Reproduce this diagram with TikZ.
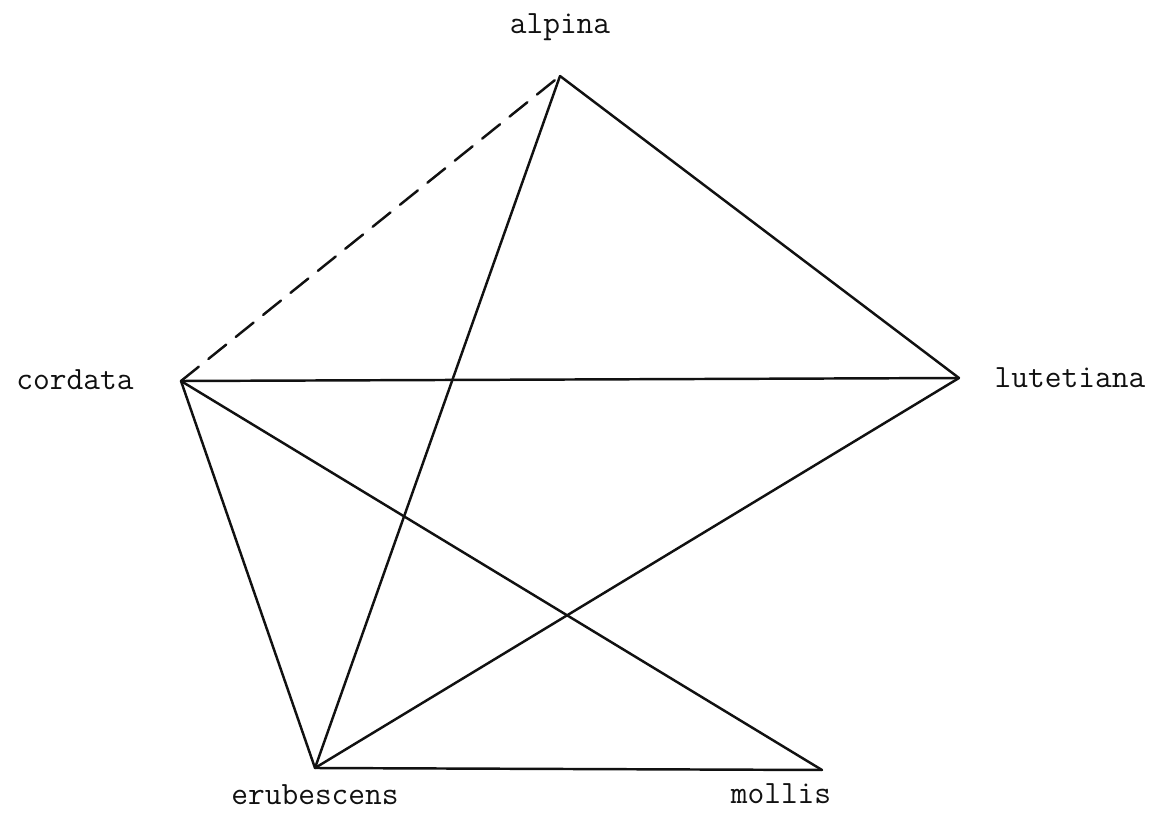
\documentclass[tikz,border=0pt]{standalone}
\usetikzlibrary{positioning}
\definecolor{inkblack}{HTML}{111111}
\tikzset{
  species/.style={font=\ttfamily\fontsize{18.5}{20}\selectfont,text=inkblack,inner sep=0pt},
  link/.style={draw=inkblack,line width=1.4pt,line cap=round,line join=round},
  weaklink/.style={link,dash pattern=on 13pt off 7pt},
}

\begin{document}
\begin{tikzpicture}
  \useasboundingbox (0,0) rectangle (23.08,16.24);

  % ---------------- vertices ----------------
  \coordinate (alp) at (11.20,14.72);
  \coordinate (cor) at (3.62,8.62);
  \coordinate (lut) at (19.18,8.68);
  \coordinate (eru) at (6.30,0.88);
  \coordinate (mol) at (16.44,0.84);

  % ---------------- labels ----------------
  \node[species] (alpL) at (11.20,15.70) {alpina};
  \node[species] (corL) at (1.50,8.64) {cordata};
  \node[species] (lutL) at (21.40,8.68) {lutetiana};
  \node[species] (eruL) at (6.30,0.34) {erubescens};
  \node[species] (molL) at (15.62,0.36) {mollis};

  % ---------------- edges ----------------
  \draw[weaklink] (cor) -- (alp);
  \draw[link] (alp) -- (lut);
  \draw[link] (alp) -- (eru);
  \draw[link] (cor) -- (lut);
  \draw[link] (cor) -- (eru);
  \draw[link] (cor) -- (mol);
  \draw[link] (eru) -- (lut);
  \draw[link] (eru) -- (mol);
\end{tikzpicture}
\end{document}
